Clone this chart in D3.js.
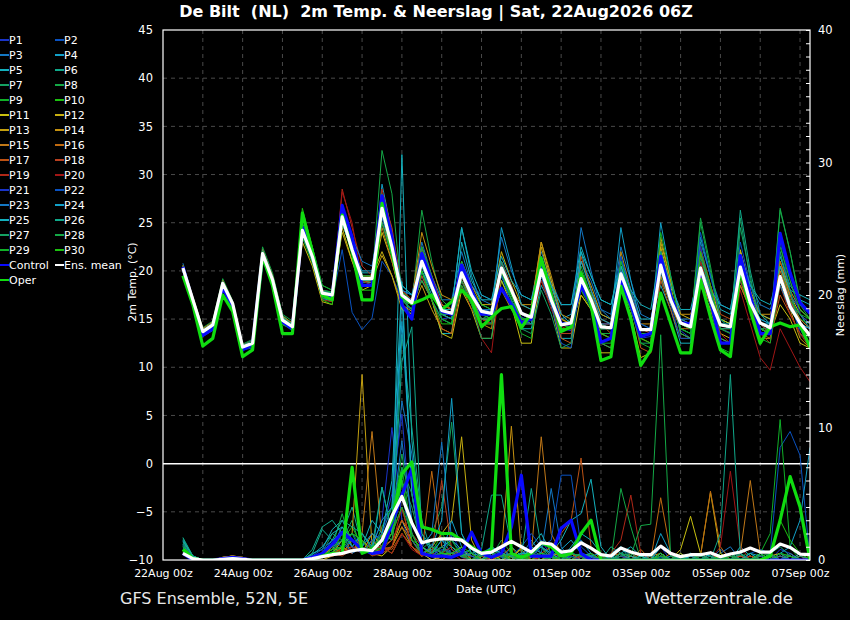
<!DOCTYPE html>
<html><head><meta charset="utf-8">
<script src="https://cdn.jsdelivr.net/npm/d3@7"></script>
<style>
html,body{margin:0;padding:0;background:#000;}
svg{display:block;font-family:"DejaVu Sans",sans-serif;}
</style></head>
<body><svg id="c" width="850" height="620"></svg>
<script>
// ---------------- DATA ----------------
const memberNames = ["P1","P2","P3","P4","P5","P6","P7","P8","P9","P10","P11","P12","P13","P14","P15","P16","P17","P18","P19","P20","P21","P22","P23","P24","P25","P26","P27","P28","P29","P30"];
const memberColors = ["#1a34c8","#0a52c0","#1478c4","#12a0c8","#14b0bc","#10a88a","#14a062","#14a846","#10b028","#1cc010",
                      "#c8c010","#c8b010","#c4a010","#c49010","#c07818","#c06a10","#bc5214","#b84020","#b02818","#a01616",
                      "#1a34c8","#0a52c0","#1478c4","#12a0c8","#14b0bc","#10a88a","#14a062","#14a846","#10b028","#1cc010"];
const xTickLabels = ["2026-08-22","2026-08-24","2026-08-26","2026-08-28","2026-08-30","2026-09-01","2026-09-03","2026-09-05","2026-09-07"];
const tempTicks = [-10,-5,0,5,10,15,20,25,30,35,40,45];
const precipTicks = [0,10,20,30,40];

const tempMean = [20.3,17.0,13.7,14.4, 18.7,16.6,12.1,12.5, 21.8,19.1,14.9,14.2, 24.2,21.5,17.7,17.5, 25.6,22.2,19.2,19.2, 26.5,22.5,17.5,16.7, 21.0,18.4,15.9,15.6, 19.8,17.5,15.8,15.6, 20.3,18.0,15.6,15.2, 20.1,17.0,14.4,14.6, 19.2,17.0,14.2,14.1, 19.7,17.0,13.9,13.9, 20.6,17.0,14.6,14.2, 20.3,17.0,14.4,14.2, 20.4,16.7,14.6,14.1, 19.4,16.3,14.6,13.3];
const tempControl = [20.4,16.8,13.3,14.0, 18.3,16.2,11.8,12.4, 21.5,18.8,14.7,14.0, 24.5,21.8,17.6,17.3, 26.8,23.5,18.5,18.5, 27.8,23.5,16.5,15.0, 21.8,19.0,15.8,15.5, 20.6,18.0,15.5,15.5, 18.2,16.5,14.6,15.0, 20.5,17.5,14.5,14.5, 18.5,16.5,12.6,13.0, 19.0,16.5,13.2,13.5, 21.5,17.5,14.6,14.5, 20.1,17.0,12.5,12.5, 21.6,17.5,13.5,13.5, 23.9,19.8,16.7,15.6];
const tempOper = [19.5,16.5,12.2,13.0, 17.5,15.8,11.1,11.8, 21.5,18.5,13.5,13.5, 26.0,22.0,17.5,17.0, 25.8,22.0,17.0,17.0, 27.0,22.0,17.3,16.6, 17.0,17.5,16.0,16.8, 18.0,17.0,14.2,15.2, 16.1,16.3,14.1,15.6, 21.3,17.5,13.7,14.2, 19.7,16.5,10.7,11.1, 18.4,15.0,10.2,11.8, 17.7,14.6,11.5,11.5, 19.1,15.2,11.8,11.1, 20.3,15.9,12.5,14.2, 14.6,14.2,14.4,12.1];
const tempMembers = [
 [20.5,16.8,13.5,14.2, 19.0,16.4,12.0,12.3, 22.3,19.5,15.2,14.0, 24.8,22.0,18.0,17.2, 26.5,22.8,19.5,19.0, 27.0,23.0,17.0,15.8, 19.5,17.0,15.0,15.2, 18.5,16.8,15.0,14.6, 21.0,18.5,15.8,15.0, 21.5,18.0,14.0,13.8, 18.0,16.5,13.5,13.0, 21.5,17.5,13.0,13.2, 22.0,17.5,13.8,13.0, 19.5,16.5,14.0,13.6, 21.5,17.0,14.0,13.5, 20.5,16.5,14.0,12.5],
 [20.0,16.5,13.2,13.8, 18.2,16.0,11.8,12.0, 21.5,18.8,14.5,13.8, 23.5,21.0,17.0,17.0, 22.2,15.7,13.9,15.1, 21.0,19.5,17.0,16.0, 22.5,19.0,16.0,15.5, 20.5,18.0,16.0,15.8, 19.5,17.5,15.2,14.8, 19.0,16.5,14.5,14.8, 20.0,17.5,14.0,14.0, 18.5,16.0,13.5,13.5, 19.5,16.5,14.5,14.0, 21.0,17.5,14.5,14.0, 19.0,16.0,14.0,14.0, 22.0,17.0,13.5,12.5],
 [20.8,17.2,14.0,14.6, 18.5,16.8,12.3,12.8, 21.5,19.0,15.0,14.5, 24.5,21.8,18.0,17.8, 25.0,22.0,19.0,19.5, 25.5,22.0,17.8,17.0, 23.0,19.5,17.0,17.0, 22.0,18.5,17.0,16.5, 23.5,20.0,17.5,17.0, 22.0,19.0,16.5,16.5, 21.0,19.0,16.0,15.5, 22.5,19.0,15.5,15.0, 19.0,17.0,15.0,15.0, 23.0,19.5,16.5,16.0, 22.0,18.5,16.5,16.0, 19.0,17.5,16.0,15.0],
 [20.0,16.8,13.8,14.5, 18.8,16.5,12.0,12.4, 22.0,19.2,15.0,14.0, 24.0,21.5,17.5,17.0, 25.5,22.5,19.0,18.5, 29.0,24.0,18.0,17.5, 22.5,19.0,16.5,16.0, 24.5,19.5,16.5,16.0, 19.5,17.5,15.0,14.5, 20.0,17.0,15.0,15.5, 22.0,18.0,15.5,15.0, 24.5,19.0,14.5,14.0, 19.5,16.5,14.5,14.5, 18.5,16.0,14.5,14.0, 20.0,17.0,15.0,14.5, 19.0,16.5,15.5,14.0],
 [20.2,17.0,13.6,14.3, 18.6,16.5,12.2,12.6, 21.8,19.0,14.8,14.4, 24.5,21.0,17.8,17.6, 26.0,22.5,19.8,19.8, 28.0,23.5,16.5,15.5, 20.0,17.0,13.5,13.5, 23.0,19.0,17.0,17.0, 19.5,17.0,14.0,14.0, 18.5,16.5,13.0,13.0, 22.0,19.5,17.0,16.5, 21.0,18.0,15.0,15.0, 18.5,16.0,12.5,12.5, 23.5,19.5,16.0,15.5, 21.0,17.5,15.5,15.0, 21.5,18.5,17.0,16.5],
 [20.4,17.1,13.9,14.5, 18.9,16.7,12.2,12.6, 22.0,19.5,15.4,14.5, 23.8,21.2,17.2,16.8, 25.0,22.0,18.8,18.8, 26.0,22.0,17.0,16.5, 20.0,18.0,15.5,15.0, 20.0,17.5,15.5,15.0, 19.0,17.0,15.0,15.0, 21.0,17.5,14.5,14.0, 18.5,16.5,14.0,14.0, 20.0,17.0,13.5,13.5, 21.5,17.5,14.5,14.0, 20.0,17.0,15.0,14.5, 22.0,17.5,14.0,13.5, 19.5,17.0,15.0,14.0],
 [20.1,16.9,13.5,14.1, 18.4,16.3,11.9,12.2, 21.5,18.8,14.6,14.0, 24.0,21.4,17.6,17.4, 25.4,22.0,19.0,19.0, 26.5,22.0,17.0,16.0, 21.0,18.5,15.5,15.5, 19.5,17.0,15.0,15.5, 20.0,18.0,15.5,15.0, 19.5,16.5,14.5,15.0, 18.5,17.0,14.5,14.0, 19.0,16.5,14.0,14.0, 20.5,17.0,14.5,14.5, 21.5,18.0,15.0,14.5, 25.5,19.0,14.5,13.5, 20.5,17.0,15.0,14.0],
 [20.6,17.3,14.1,14.8, 19.2,16.9,12.4,12.9, 22.5,19.8,15.5,14.8, 25.0,22.5,18.5,18.0, 25.8,22.5,19.5,19.0, 32.5,28.0,17.5,16.5, 26.3,21.0,17.0,16.0, 20.5,18.0,16.0,15.5, 20.0,17.5,15.0,14.5, 20.5,17.5,14.5,14.5, 19.0,16.5,13.5,13.5, 19.5,17.0,13.5,13.5, 20.0,17.0,14.5,14.0, 25.0,20.0,15.0,14.5, 19.5,16.5,14.0,14.0, 26.5,22.0,16.5,15.0],
 [20.0,16.7,13.4,14.1, 18.3,16.2,11.8,12.2, 21.2,18.6,14.4,14.0, 24.8,22.0,18.0,17.8, 25.2,21.8,18.8,19.0, 25.0,21.5,17.5,17.0, 21.5,19.0,16.0,16.0, 20.0,17.5,15.5,15.5, 19.5,17.5,15.5,15.0, 20.0,17.0,14.5,14.5, 20.5,17.5,14.0,14.0, 18.5,16.5,13.5,13.5, 21.0,17.0,14.0,13.5, 20.0,17.0,14.5,14.0, 20.0,16.5,14.5,14.5, 19.0,16.5,15.0,14.5],
 [20.3,17.0,13.7,14.4, 18.7,16.6,12.1,12.5, 21.9,19.2,15.0,14.3, 23.5,20.8,17.3,17.3, 25.8,22.5,19.3,19.5, 27.5,23.0,17.8,17.0, 20.5,18.0,15.8,15.5, 19.0,17.0,15.5,15.0, 20.5,18.0,15.5,15.0, 20.5,17.0,14.5,14.5, 19.5,17.5,14.0,14.0, 20.5,17.5,14.0,14.0, 19.5,16.5,14.5,14.5, 19.0,16.5,14.0,14.0, 21.0,17.0,14.5,14.0, 18.5,16.0,14.5,13.5],
 [20.2,16.9,13.6,14.3, 18.6,16.5,12.0,12.4, 21.6,19.0,15.0,14.4, 23.0,20.5,16.8,16.5, 24.5,21.0,18.0,18.5, 24.0,21.0,17.0,16.5, 19.0,17.0,13.5,13.0, 18.0,16.0,13.0,13.0, 19.0,16.5,12.5,12.5, 20.0,16.5,12.0,12.0, 17.5,16.0,11.5,11.5, 18.0,15.5,11.0,11.5, 22.5,18.5,13.5,13.0, 22.0,18.5,15.0,14.5, 22.2,18.0,14.0,13.5, 16.5,15.0,12.5,12.0],
 [20.4,17.1,13.8,14.5, 18.8,16.7,12.2,12.6, 22.0,19.3,15.1,14.4, 24.4,21.6,17.8,17.6, 24.0,21.0,19.0,19.5, 22.0,19.5,16.0,15.5, 21.5,19.0,16.5,16.0, 21.0,18.5,16.5,16.5, 22.0,19.0,16.5,16.0, 23.0,19.0,15.0,14.5, 17.5,16.0,13.5,13.0, 20.0,17.0,14.0,14.0, 23.0,19.0,15.5,15.0, 19.5,17.0,13.5,13.0, 22.0,18.0,15.5,15.0, 20.5,17.5,15.5,14.5],
 [20.1,16.8,13.5,14.2, 18.5,16.4,12.0,12.3, 21.7,19.0,14.8,14.1, 24.6,21.8,17.9,17.6, 25.6,22.0,19.0,19.0, 21.6,19.5,16.5,15.8, 18.5,16.0,14.0,13.5, 20.5,17.5,15.0,15.0, 18.0,16.0,14.5,14.5, 22.5,18.5,15.0,14.5, 21.0,18.5,15.5,15.0, 18.5,16.0,13.0,12.5, 23.5,19.0,15.0,14.5, 19.0,16.5,13.0,12.5, 18.5,16.0,13.0,13.0, 21.0,18.0,16.0,15.0],
 [20.5,17.2,14.0,14.7, 19.0,16.8,12.3,12.7, 22.2,19.5,15.3,14.6, 24.0,21.3,17.5,17.3, 25.2,22.0,19.2,19.0, 25.0,22.0,18.0,17.0, 24.0,20.5,17.5,17.0, 19.0,17.0,14.5,14.0, 21.0,18.0,16.5,16.5, 23.0,19.5,15.5,15.0, 19.0,16.5,12.5,12.0, 22.0,18.0,14.5,14.5, 20.0,17.0,15.5,15.5, 18.5,16.0,12.5,12.5, 20.5,17.0,15.5,15.5, 18.5,16.0,13.0,12.0],
 [20.0,16.7,13.4,14.0, 18.4,16.3,11.9,12.3, 21.5,18.9,14.7,14.1, 24.3,21.6,17.6,17.4, 25.9,22.5,19.4,19.3, 24.5,21.0,17.0,16.5, 21.5,18.5,16.0,16.0, 19.5,17.0,15.5,15.5, 20.0,17.5,15.0,14.5, 20.0,17.0,14.5,14.5, 19.5,17.0,14.5,14.5, 20.0,17.0,14.0,14.0, 19.5,16.5,14.0,14.0, 21.0,17.5,14.5,14.0, 18.5,16.0,14.5,14.0, 20.0,17.0,15.0,14.0],
 [20.6,17.3,14.0,14.6, 18.9,16.8,12.3,12.7, 22.1,19.4,15.2,14.5, 23.9,21.1,17.4,17.2, 25.3,22.0,19.0,18.8, 27.0,22.5,17.5,16.5, 22.0,19.0,16.5,16.0, 19.5,17.5,16.0,15.5, 21.0,18.5,15.5,15.0, 19.0,16.5,14.0,14.0, 20.0,17.5,15.0,14.5, 19.5,17.0,14.0,14.0, 20.5,17.0,14.5,14.0, 22.0,18.0,14.5,14.0, 19.5,16.5,14.0,13.5, 21.0,17.5,14.5,13.0],
 [20.2,16.9,13.6,14.3, 18.6,16.5,12.1,12.5, 21.8,19.1,14.9,14.2, 24.2,21.5,17.7,17.5, 26.0,22.5,19.5,19.5, 26.5,23.0,17.5,16.5, 19.5,17.0,14.0,13.5, 18.5,16.0,14.5,14.5, 20.5,18.0,15.0,14.5, 19.5,16.5,13.0,12.5, 21.5,18.0,14.5,13.5, 19.0,16.5,12.0,11.5, 19.0,16.0,13.0,13.0, 22.5,18.5,15.5,15.0, 19.0,16.0,13.5,13.0, 17.5,15.5,13.5,12.5],
 [20.4,17.1,13.8,14.4, 18.8,16.7,12.1,12.6, 21.9,19.2,15.0,14.3, 24.5,22.0,18.0,17.5, 26.5,23.5,19.5,19.0, 28.0,24.5,18.0,17.0, 22.5,19.5,16.5,16.0, 19.5,17.0,15.0,14.5, 20.5,18.0,15.5,15.0, 20.0,16.5,13.5,13.5, 19.5,17.0,14.5,14.5, 19.5,16.5,14.0,13.5, 21.5,17.5,14.5,14.0, 19.5,16.5,14.5,14.0, 21.0,17.0,14.5,13.5, 19.5,17.0,14.5,14.0],
 [20.3,17.0,13.7,14.4, 18.7,16.6,12.1,12.5, 21.8,19.1,14.9,14.2, 24.0,21.3,17.0,16.8, 28.5,24.5,20.5,19.5, 28.5,24.0,18.0,17.0, 21.0,18.5,15.5,15.0, 19.0,16.5,15.0,14.5, 20.5,18.0,15.5,15.0, 20.5,17.0,14.5,14.5, 19.5,17.0,14.0,14.0, 20.0,17.0,13.5,13.5, 21.0,17.5,14.5,14.0, 20.0,16.5,14.0,14.0, 20.5,16.5,13.5,12.5, 18.5,15.5,13.5,12.0],
 [20.5,17.2,13.9,14.6, 18.9,16.8,12.3,12.7, 22.0,19.3,15.1,14.4, 24.1,21.4,17.6,17.4, 28.2,25.0,19.0,18.5, 27.5,23.5,17.5,16.5, 21.0,18.5,16.0,15.5, 19.5,17.0,13.0,11.5, 20.0,17.5,15.0,14.5, 19.0,16.0,14.0,14.5, 20.0,17.5,14.5,14.0, 19.5,16.5,13.5,13.5, 20.5,17.0,14.5,14.0, 21.0,17.5,13.5,12.5, 18.0,14.5,11.0,9.7, 14.0,12.0,10.0,8.5],
 [20.2,16.8,13.5,14.2, 18.6,16.4,12.0,12.4, 21.6,18.9,14.7,14.1, 24.6,21.8,17.8,17.4, 25.2,22.0,19.0,19.0, 27.0,22.0,17.0,16.5, 21.0,18.5,16.0,15.5, 20.0,17.5,15.5,15.5, 21.0,18.0,15.5,15.0, 19.5,16.5,14.5,14.5, 20.0,17.0,14.0,14.0, 20.5,17.5,14.0,14.0, 20.5,17.0,14.5,14.0, 22.5,18.0,14.0,13.5, 20.0,16.5,14.5,14.0, 23.5,19.0,15.5,14.5],
 [20.4,17.1,13.8,14.5, 18.8,16.7,12.2,12.6, 21.9,19.2,15.0,14.3, 23.8,21.0,17.4,17.2, 25.8,22.5,19.3,19.2, 26.0,22.5,17.5,17.0, 22.0,19.0,15.0,14.5, 21.0,18.5,17.5,17.0, 19.5,17.0,14.5,14.5, 20.0,16.5,12.5,12.0, 19.5,17.0,14.5,14.5, 21.5,18.0,14.5,14.0, 20.0,16.5,13.0,13.0, 24.0,19.5,15.0,14.0, 23.0,18.5,15.5,14.5, 23.0,18.0,14.0,12.0],
 [20.0,16.7,13.4,14.1, 18.4,16.3,11.9,12.3, 21.5,18.8,14.6,14.0, 24.4,21.7,17.8,17.5, 26.5,23.5,21.0,20.5, 26.5,22.0,18.0,17.5, 20.0,18.0,15.5,15.5, 20.5,18.0,16.0,16.0, 20.0,17.5,15.5,15.0, 19.5,16.5,14.5,14.5, 24.5,20.0,16.0,15.0, 20.0,17.0,14.0,14.0, 20.5,17.5,14.5,14.5, 20.5,17.5,14.5,14.0, 21.0,17.0,14.5,14.5, 18.5,16.0,14.5,14.0],
 [20.3,17.1,13.8,14.5, 18.8,16.6,12.1,12.5, 21.8,19.1,15.0,14.3, 24.2,21.6,17.8,17.6, 25.6,22.5,20.0,20.0, 26.0,22.0,18.5,17.5, 20.5,18.0,15.5,15.0, 20.0,17.5,15.5,15.5, 24.5,20.5,16.5,16.0, 21.5,18.5,15.5,14.5, 21.0,18.0,15.0,14.5, 20.5,17.0,14.0,14.0, 25.0,19.5,15.0,14.5, 20.0,17.0,14.5,14.5, 20.5,17.0,15.0,14.5, 19.5,16.5,14.5,14.0],
 [20.1,16.8,13.5,14.2, 18.5,16.4,12.0,12.4, 21.6,18.9,14.7,14.1, 24.0,21.2,17.4,17.2, 25.4,22.0,19.2,19.2, 26.5,23.0,18.5,17.5, 20.0,17.5,16.0,16.0, 24.5,20.0,17.5,17.0, 21.5,19.0,17.5,17.0, 21.0,18.5,16.5,16.5, 22.5,19.5,17.0,16.5, 20.5,18.0,16.5,16.0, 22.0,18.5,16.0,16.0, 20.5,18.0,16.5,16.0, 21.5,18.5,17.0,16.5, 20.5,18.0,17.5,17.0],
 [20.5,17.2,13.9,14.6, 18.9,16.8,12.3,12.7, 22.1,19.4,15.2,14.5, 24.4,21.7,17.9,17.7, 25.0,22.0,19.0,19.0, 26.5,22.5,17.0,16.0, 21.0,18.5,15.5,15.0, 19.5,17.0,15.0,15.0, 20.0,17.5,15.0,14.5, 20.0,17.0,14.0,14.0, 20.0,17.5,14.5,14.0, 19.5,17.0,13.5,13.5, 21.5,17.5,14.0,13.5, 20.5,17.0,14.0,14.0, 26.3,20.0,15.5,14.5, 19.0,16.5,14.5,13.5],
 [20.2,16.9,13.6,14.3, 18.6,16.5,12.0,12.4, 21.7,19.0,14.8,14.1, 23.8,21.0,17.2,17.0, 25.5,22.0,19.0,19.0, 25.0,21.5,17.0,16.5, 19.0,17.0,15.0,14.5, 19.0,16.5,13.0,13.0, 21.0,18.0,14.0,13.5, 18.0,15.5,12.0,12.5, 20.0,17.0,12.5,12.0, 18.5,16.0,12.5,12.5, 22.0,18.0,13.5,13.0, 21.5,18.0,13.0,12.5, 24.5,19.5,14.0,13.5, 22.0,18.0,14.0,13.0],
 [20.4,17.1,13.8,14.5, 18.8,16.7,12.2,12.6, 22.0,19.3,15.1,14.4, 24.2,21.5,17.7,17.5, 25.6,22.5,19.5,19.5, 27.0,23.0,17.5,16.5, 21.0,18.5,15.5,15.5, 20.0,17.5,15.5,15.5, 20.0,17.5,15.0,15.0, 20.0,17.0,14.5,14.5, 19.5,17.0,14.0,14.0, 19.5,16.5,13.5,13.5, 20.5,17.0,14.5,14.0, 25.5,20.5,15.0,14.0, 20.0,16.5,14.0,13.5, 26.3,22.0,17.0,15.5],
 [20.0,16.7,13.4,14.1, 18.3,16.2,11.8,12.2, 21.4,18.7,14.5,14.0, 26.0,22.5,18.5,18.0, 26.0,23.0,19.5,19.0, 27.5,23.5,17.5,16.5, 22.5,19.5,15.0,14.5, 18.5,16.5,14.5,14.5, 20.0,17.0,13.5,13.0, 21.5,18.0,14.5,14.0, 18.0,16.0,12.5,12.5, 21.0,17.5,12.5,12.0, 24.0,19.5,14.0,13.5, 20.0,16.5,12.0,11.5, 21.5,17.5,13.0,12.5, 19.0,17.0,15.5,15.0],
 [20.3,17.0,13.7,14.4, 18.7,16.6,12.1,12.5, 21.8,19.1,14.9,14.2, 26.5,22.5,17.0,16.5, 26.0,22.0,18.0,18.0, 28.0,23.5,17.0,16.0, 20.0,17.0,14.5,14.5, 21.0,18.0,16.5,16.0, 20.0,17.5,15.0,15.0, 21.5,18.0,14.0,14.0, 20.0,17.5,13.5,13.0, 19.0,16.0,13.0,12.5, 21.5,18.0,14.5,14.0, 22.0,18.5,14.0,13.5, 19.5,16.5,14.0,13.5, 22.5,19.0,16.0,15.0]
];

const precipMean = [0.5,0.1,0,0,0.05,0.1,0.05,0, 0,0,0,0,0,0.1,0.25,0.4, 0.5,0.7,0.8,0.7,1.5,3.3,4.8,2.8, 1.3,1.5,1.6,1.6,1.5,0.9,0.5,0.6, 1.0,1.4,1.0,0.6,1.3,1.2,0.6,0.7, 1.3,0.9,0.4,0.3,0.9,0.6,0.4,0.4, 1.05,0.5,0.25,0.4,0.4,0.55,0.25,0.45, 0.6,0.9,0.6,0.6,1.2,0.95,0.45,0.4];
const precipControl = [0.5,0,0,0,0.1,0.2,0.1,0, 0,0,0,0,0,0.2,0.5,1.2, 2.1,1.5,0.8,0.5,0.6,2.8,4.9,6.9, 0.5,0.3,0.3,0.2,0.5,2.1,0.5,0.2, 0.5,2.5,6.4,0.3,0.3,0.3,2.4,3.0, 0.5,0,0,0,0,0,0,0, 0,0,0,0,0,0,0,0, 0,0,0,0,0,0,0,0];
const precipOper = [0.8,0.1,0,0,0,0.1,0,0, 0,0,0,0,0,0,0.3,0.5, 0.5,7.0,0.5,0.8,1.5,3.0,6.5,7.4, 2.5,2.3,2.0,2.0,1.5,1.0,0.5,0.75, 14.0,0.5,0.2,0.5,1.3,1.0,0.3,0.5, 2.0,3.0,0,0,0,0,0,0, 0,0,0,0,0,0,0,0, 0,0,0,0.3,3.0,6.3,4.0,0];
const precipMembers = [
 [1.0,0.2,0,0,0,0.1,0,0, 0,0,0,0,0,0,0.5,1.2, 0.8,1.5,0.5,1.0,3.0,10.0,3.0,1.0, 0.3,1.2,0.5,2.0,0.5,0,0,0.3, 0.8,0.2,0,0.5,1.5,0.3,0,0, 0.2,0,0,0,0.5,0,0,0, 1.0,0,0,0,0.3,0,0,0, 0.4,0,0,0,0.8,0.5,0,0],
 [0.8,0.1,0,0,0,0,0,0, 0,0,0,0,0,0.2,0.3,0.6, 1.0,0.5,2.0,0.8,1.5,2.5,6.0,2.0, 0.5,0,0.3,0.8,0.2,0,0.5,0, 0,1.0,0.3,0,0,0.2,0,0.5, 0.3,0,0,0,0,0.3,0,0, 0.2,0,0,0.5,0,0,0.8,0.3, 0,0.5,0.8,0.5,8.5,9.7,7.9,0],
 [1.2,0.2,0,0,0.1,0.2,0.1,0, 0,0,0,0,0,0,0.3,0.8, 2.0,0.5,1.0,0.5,2.0,4.0,12.0,8.0, 1.0,0.5,1.5,0.5,0.3,0.8,0,0.5, 0.2,0,0.3,1.5,0.5,5.4,1.0,0, 0.5,0.2,0,0,0.3,0,0,0.5, 0,0,0.3,0,0,0,0.5,1.0, 0,0,0.3,0,0,0.5,0,0],
 [0.5,0,0,0,0,0,0,0, 0,0,0,0,0,0.3,0.5,1.0, 2.5,1.0,0.5,1.5,0.8,3.0,20.0,5.0, 0.5,0.8,0.3,3.0,1.0,0,0.3,0.5, 0,0.5,0,0.2,1.0,0,0.3,0.8, 1.5,0.5,0,0.5,1.0,0.3,0,0, 2.0,0.5,0,0.5,0.3,0,0,0.5, 0,0.5,0.3,0,0.5,1.0,3.0,8.5],
 [1.5,0.3,0,0,0,0,0,0, 0,0,0,0,0,0.5,0.8,2.3, 3.0,1.5,1.0,0.5,5.5,2.0,30.6,9.0, 2.0,0.5,1.0,1.5,0.8,0.3,0,0.5, 1.0,0.2,0,1.0,2.0,0.5,1.5,3.0, 3.5,6.1,1.0,0,0.5,1.0,0.3,0, 0.5,0,0,0.3,0,0.5,0,0, 1.0,0.3,0,0,0.5,0,0,0],
 [1.7,0.3,0,0,0,0,0,0, 0,0,0,0,0,0.8,2.5,3.0, 2.0,4.0,1.0,2.0,1.0,2.0,17.0,10.0, 3.0,0.5,1.0,0.5,0.3,0.5,0.8,4.9, 4.9,1.0,0.3,0,0.5,0.2,0,0.5, 0,0.3,0,1.0,0.5,0,0.3,0, 0.3,0,0.5,0,0,0,0.3,0, 0.5,0,0,0.5,1.0,0.3,0,0],
 [1.3,0.2,0,0,0,0,0,0, 0,0,0,0,0,0,0.5,2.0, 1.5,3.0,0.5,1.0,2.0,1.5,6.0,4.0, 1.0,2.0,4.0,10.4,2.0,0.5,0,0.3, 0.5,0,0.3,0.8,1.0,0,0.5,0.3, 0,0,0,0.5,0,0.3,0,0, 0.5,0,0,0,0.3,0,0,0.5, 0.3,0,0.5,0,0.3,0,0,0],
 [1.0,0.1,0,0,0,0,0,0, 0,0,0,0,0,0,0.3,1.0, 3.5,1.0,2.0,0.8,1.0,3.0,8.0,3.0, 0.8,1.5,0.5,0.3,1.0,0,0.5,0.3, 1.5,0.5,0,0,0.3,1.0,0,0.2, 0.5,0,0,0,5.4,2.5,0,0, 0.3,0,0,0,0,0.5,0,0, 0.3,0.5,0,0,0,0,0,0],
 [0.7,0.1,0,0,0,0,0,0, 0,0,0,0,0,0,0.2,0.5, 1.0,2.0,1.5,0.5,2.5,4.0,7.0,2.0, 0.5,0.3,1.0,0.5,0.3,0,0.5,0.8, 0.3,0,0.5,0.3,0,0.5,0,0, 0.3,0.5,0,0,0,0.3,0,0, 0,0.3,0,0,0.5,0,0,0.5, 0,0,0.5,2.0,10.6,1.0,0,0],
 [0.9,0.2,0,0,0,0,0,0, 0,0,0,0,0,0,0.3,0.5, 1.5,2.5,1.0,0.3,1.0,3.5,5.0,1.5, 0.3,0.5,2.0,1.0,0.5,0,0,0.5, 0.3,0.2,0,0.5,0,0.3,0,0, 0.5,0,0,0,0,0,0.3,0, 0,0,0,0.3,0,0,0.5,0, 0,0.3,0,0,0.5,0.3,0,0],
 [0.5,0.1,0,0,0.2,0.3,0.1,0, 0,0,0,0,0,0,0.2,0.3, 0.5,0.8,1.0,0.5,0.3,1.0,3.0,1.5, 0.5,0,0.3,0.5,1.0,0,0.3,0.5, 0,0.3,0.8,0,0.5,0,0,0.5, 0,0,0.3,0,0,0,0,0, 0.5,0,0.8,3.3,0.5,0,0,0.3, 0,0,0,0.3,0.5,0,0.3,0],
 [0.6,0.1,0,0,0.2,0.3,0.2,0, 0,0,0,0,0,0,0,0.3, 1.0,0.5,1.5,0.8,1.0,0.5,2.0,1.0, 0.3,1.0,2.0,3.0,9.3,1.5,0,0.3, 0.5,0,1.0,0.3,0,0.5,0,0, 0.3,0,0,0,0.5,0,0,0, 0,0,0.5,0,0.3,5.1,0.5,0, 0,0.3,0,0,0,0.5,0,0],
 [0.4,0,0,0,0.2,0.3,0.2,0, 0,0,0,0,0,0,0.3,0.5, 1.5,2.0,14.0,1.0,0.5,1.0,2.5,1.0, 0.5,0.3,0,0.5,0.3,0,0.5,0, 0.3,0.5,0,0.3,0,0.5,0.3,0, 0,0.5,0,0,0,0.3,0,0, 0.5,0,0,0,0,0,0,0.5, 0,0,0.3,0,0,0,0.5,0],
 [0.5,0.1,0,0,0.2,0.3,0.2,0, 0,0,0,0,0,0,0.2,1.0, 0.5,1.5,0.5,2.0,1.0,1.5,3.0,2.0, 0.5,0.3,1.0,0.5,0.3,0.5,0,1.0, 0.5,10.1,0.5,0,0.3,0,0.5,0, 0,0,0,0.3,0,0,0,0.3, 0.5,0,0,0,0,0.5,0,0, 0.3,0,0,0,0,0,0,0],
 [0.6,0.1,0,0,0.1,0.2,0.1,0, 0,0,0,0,0,0,0.5,0.8, 1.0,0.5,2.0,9.7,1.5,2.0,4.0,1.0, 0.3,1.0,0.5,0.5,0.3,0,0.5,0.3, 0.5,0,0.3,0.5,9.3,2.0,0.5,0, 0.5,0,0,0,0,0.5,0,0, 0,0.5,0,0,0,0,0.3,0, 0.5,6.0,0.5,0,0,0.3,0,0],
 [0.7,0.2,0,0,0.1,0.2,0.1,0, 0,0,0,0,0,0,0.3,0.5, 0.8,1.0,0.5,1.5,0.8,1.0,2.5,1.5, 0.5,6.7,1.0,0.3,0.5,0,0.3,0.5, 0.3,1.0,0,0.5,0.3,0,0,0.5, 0,0,0,0.3,0.5,0,0.8,0, 4.7,0.5,0,0,0.3,5.2,1.0,0, 0,0.3,0,0,0.3,0,0,0],
 [0.5,0.1,0,0,0,0.1,0,0, 0,0,0,0,0,0,0.2,0.3, 0.5,1.0,0.8,0.5,1.0,0.8,2.0,1.0, 0.3,0.5,0.3,0.5,0.3,0.5,0,0.3, 0.5,0.3,0,0.3,0.5,1.0,2.0,3.0, 7.7,1.0,0,0,0.3,0,0.5,0, 0,0,0.3,0,0,0,0,0.5, 0,0,0,0.3,0,0,0,0.3],
 [0.6,0.1,0,0,0,0.1,0,0, 0,0,0,0,0,0,0.3,0.5, 0.3,0.8,1.5,0.5,0.8,1.5,3.0,2.0, 1.0,0.5,6.0,0.8,0.3,0,0.3,0, 0.5,0.3,0,0.5,0.3,0,0.3,0.5, 0,0.3,0,0,0,0.5,0,0, 0.3,0,0,0,0.5,0,0,0, 0.3,0,0,0.5,0,0.3,0,0],
 [0.4,0,0,0,0,0,0,0, 0,0,0,0,0,0,0.2,0.5, 0.8,0.5,1.0,0.3,0.5,1.0,4.0,1.0, 0.5,0.3,0.5,1.0,0.3,0.5,0,0.3, 0.3,0,0.5,0,0.3,0.5,0,0, 0.3,0.5,0,0.5,1.5,4.9,0.5,0, 0.3,0,0,0,0,0.5,0,0, 0,0.3,0,0,0.3,0,0,0],
 [0.5,0.1,0,0,0,0,0,0, 0,0,0,0,0,0,0.3,0.3, 0.5,1.0,0.5,0.8,1.0,0.5,2.0,0.8, 0.3,0.5,0.3,0.5,0,0.3,0,0.5, 0.3,0.5,0,0.3,0,0,0.5,0, 0,0,0.3,0,0,0,0,0.3, 0,0,0,0.3,0,0,1.0,6.7, 1.0,0,0,0.3,0,0,0.3,0],
 [0.8,0.2,0,0,0,0,0,0, 0,0,0,0,0,0,0.5,1.0, 2.0,1.0,0.5,1.5,2.0,5.0,11.0,2.0, 0.5,0.3,1.0,0.5,0.8,0.3,0,0.5, 0.3,0,0.5,0.3,1.0,0.5,0,0.3, 0,0.5,0,0,0.3,0,0,0, 0.5,0,0,0,0.3,0,0,0.5, 0,0,0.3,0,0.5,0,0,0],
 [0.9,0.2,0,0,0,0,0,0, 0,0,0,0,0,0.3,0.8,1.5, 1.0,2.0,1.0,0.5,1.0,2.0,5.0,1.5, 0.5,0.3,0.8,0.5,0.3,0,0.5,1.0, 0.5,0.3,1.0,2.0,1.0,1.5,6.4,6.4, 1.0,0.3,0,0,0.5,0,0,0, 0.3,0,0,0.5,0,0,0,0.3, 0,0,0.5,0,0,0.5,0,0],
 [1.1,0.2,0,0,0,0.1,0,0, 0,0,0,0,0,0,0.3,0.8, 1.5,0.5,1.0,2.0,1.5,3.0,9.0,3.0, 1.0,2.0,8.9,1.5,0.5,0.3,0,0.5, 0.3,0,0.5,0.8,0.3,0,0.5,0, 0,0.3,0,0.3,0,0,0,0.5, 0,0.3,0,0,0,0.3,0,0, 0.5,0,0,0,0.3,0,0,0],
 [0.6,0.1,0,0,0,0,0,0, 0,0,0,0,0,0.2,0.5,1.5, 2.0,1.0,2.0,1.0,3.0,4.0,18.0,6.0, 1.5,1.0,3.0,12.2,2.0,0.5,0.3,1.0, 0.5,0.3,0,1.0,0.5,0.3,0.8,1.5, 0.5,0.3,0.5,0,0.5,0.3,0,0, 0.5,0,0,0.3,0,0.5,0.3,0, 0,0.5,0,0.3,0,0,0.5,0],
 [1.4,0.3,0,0,0,0,0,0, 0,0,0,0,0,0.4,1.0,2.0, 2.5,1.5,1.0,3.0,2.0,6.0,21.0,5.0, 1.0,0.5,1.5,1.0,0.3,0.5,0,0.8, 0.5,0.3,0.5,0.5,1.0,0.5,0,1.0, 2.0,1.5,0.5,0,1.0,0,0.3,0, 1.0,0.5,0,0.3,0.5,0.3,0,0.5, 0,0,0.5,0,0,0.3,0,0],
 [1.6,0.3,0,0,0,0,0,0, 0,0,0,0,0,0.5,2.3,1.5, 3.0,2.5,2.0,1.0,5.5,2.0,15.0,17.6, 2.0,1.0,0.5,0.3,0.5,0.8,0.3,0.5, 0.3,0.5,0.3,5.4,1.0,0.3,0,0.5, 0.3,0.5,0,0,0.5,0,0,0.3, 0,0,0.3,0,0.5,0,2.0,14.0, 0.5,0,0,0.5,0,0,0.3,0],
 [1.2,0.2,0,0,0,0,0,0, 0,0,0,0,0,0,0.5,1.0, 1.5,2.0,0.5,1.0,1.5,2.5,7.0,5.0, 0.5,1.0,0.5,0.5,0.3,0.5,0,0.3, 0.5,0.3,0,0.5,0.3,0,0.3,0, 0.5,0,0,0,0.3,0.5,0,0, 0.3,0,0,0,0,0.3,0,0, 0.5,0,0,0,0.5,0,0,0],
 [0.8,0.1,0,0,0,0,0,0, 0,0,0,0,0,0,0.3,0.8, 1.0,1.5,1.0,0.5,2.0,1.5,6.0,2.0, 0.5,0.5,1.0,0.3,0.5,0,0.3,0.5, 0.3,0,0.3,0.5,0,0.3,0,0.5, 0.3,0,0,0,0.5,0.3,2.6,2.7, 17.0,0.3,0,0,0.3,0,0,0.5, 0,0,0.3,0.5,0,0.3,0,0],
 [0.7,0.1,0,0,0,0,0,0, 0,0,0,0,0,0,0.2,0.5, 2.0,1.5,0.5,1.0,0.8,2.0,4.0,2.0, 0.5,0.3,0.5,1.5,0.3,0,0.5,0.3, 0,0.5,0,0.3,0.5,0,0.3,0, 0,0,0.3,0,0,0,0,0, 0.3,0,0,0.5,0,0,0,0.3, 0,0,0,0,0.5,0.3,0,0],
 [1.0,0.2,0,0,0,0,0,0, 0,0,0,0,0,0,0.3,0.8, 1.0,2.0,1.5,0.5,1.0,2.0,6.0,1.5, 1.0,0.3,0.5,0.5,1.0,0.5,0,0.3, 0.5,0,0.3,0,0.5,0.3,0,0, 0,0.5,0,0,0,0,0,0, 0.5,0,0,0,0,0,0.3,0, 0,0,0.5,0,3.0,1.5,0.5,0]
];

// ---------------- CHART ----------------
const svg = d3.select("#c");
const L = 163, R = 810, T = 30, B = 560;
const x = d3.scaleUtc().domain([new Date(Date.UTC(2026,7,22,0)), new Date(Date.UTC(2026,8,7,6))]).range([L, R]);
const yT = d3.scaleLinear().domain([-10, 45]).range([B, T]);
const yP = d3.scaleLinear().domain([0, 40]).range([B, T]);
const t0 = Date.UTC(2026,7,22,12);
const times = tempMean.map((_, i) => new Date(t0 + i * 6 * 3600e3));

svg.append("rect").attr("width",850).attr("height",620).attr("fill","#000");

// grid
const grid = svg.append("g");
d3.utcDay.range(new Date(Date.UTC(2026,7,23)), new Date(Date.UTC(2026,8,7,1))).forEach(d => {
  grid.append("line").attr("x1", x(d)).attr("x2", x(d)).attr("y1", T).attr("y2", B)
    .attr("stroke", "#4a4a4a").attr("stroke-width", 1).attr("stroke-dasharray", "4,4");
});
tempTicks.filter(v => v !== -10 && v !== 45 && v !== 0).forEach(v => {
  grid.append("line").attr("x1", L).attr("x2", R).attr("y1", yT(v)).attr("y2", yT(v))
    .attr("stroke", "#4a4a4a").attr("stroke-width", 1).attr("stroke-dasharray", "4,4");
});
// zero line
svg.append("line").attr("x1", L).attr("x2", R).attr("y1", yT(0)).attr("y2", yT(0))
  .attr("stroke", "#fff").attr("stroke-width", 1.5);

// clip
svg.append("defs").append("clipPath").attr("id","clip").append("rect")
  .attr("x", L).attr("y", T).attr("width", R - L).attr("height", B - T);
const plot = svg.append("g").attr("clip-path","url(#clip)");

const lineT = d3.line().x((d, i) => x(times[i])).y(d => yT(d));
const lineP = d3.line().x((d, i) => x(times[i])).y(d => yP(d));

tempMembers.forEach((s, k) => {
  plot.append("path").attr("d", lineP(precipMembers[k])).attr("fill","none").attr("stroke", memberColors[k]).attr("stroke-width", 1);
  plot.append("path").attr("d", lineT(s)).attr("fill","none").attr("stroke", memberColors[k]).attr("stroke-width", 1);
});
const thick = [
  {t: tempControl, p: precipControl, c: "#0a0aff"},
  {t: tempOper, p: precipOper, c: "#10dd10"},
  {t: tempMean, p: precipMean, c: "#ffffff"}
];
thick.forEach(s => {
  plot.append("path").attr("d", lineP(s.p)).attr("fill","none").attr("stroke", s.c).attr("stroke-width", 3.2).attr("stroke-linejoin","round");
  plot.append("path").attr("d", lineT(s.t)).attr("fill","none").attr("stroke", s.c).attr("stroke-width", 3.2).attr("stroke-linejoin","round");
});

// frame
svg.append("rect").attr("x", L).attr("y", T).attr("width", R - L).attr("height", B - T)
  .attr("fill","none").attr("stroke","#fff").attr("stroke-width",1.2);

// left axis labels
const axL = svg.append("g").attr("transform", `translate(${L},0)`)
  .call(d3.axisLeft(yT).tickValues(tempTicks).tickSize(0).tickPadding(10));
axL.select(".domain").remove();
axL.selectAll("text").attr("fill","#fff").attr("font-size", 11.5).attr("font-family","DejaVu Sans");

// right axis minor ticks (inward) + labels
const axRm = svg.append("g").attr("transform", `translate(${R},0)`)
  .call(d3.axisLeft(yP).tickValues(d3.range(0, 41, 1)).tickSize(4).tickFormat(""));
axRm.select(".domain").remove();
axRm.selectAll("line").attr("stroke","#fff");
const axR = svg.append("g").attr("transform", `translate(${R},0)`)
  .call(d3.axisRight(yP).tickValues(precipTicks).tickSize(0).tickPadding(8));
axR.select(".domain").remove();
axR.selectAll("text").attr("fill","#fff").attr("font-size", 11.5).attr("font-family","DejaVu Sans");

// bottom axis labels
const fmt = d3.utcFormat("%d%b %Hz");
const axB = svg.append("g").attr("transform", `translate(0,${B})`)
  .call(d3.axisBottom(x).tickValues(xTickLabels.map(s => new Date(s + "T00:00:00Z"))).tickSize(0).tickPadding(9).tickFormat(fmt));
axB.select(".domain").remove();
axB.selectAll("text").attr("fill","#fff").attr("font-size", 11).attr("font-family","DejaVu Sans");

// axis titles
svg.append("text").attr("x", 486).attr("y", 593).attr("text-anchor","middle").attr("fill","#fff").attr("font-size",11).text("Date (UTC)");
svg.append("text").attr("transform","translate(136,282) rotate(-90)").attr("text-anchor","middle").attr("fill","#fff").attr("font-size",11).text("2m Temp. (°C)");
svg.append("text").attr("transform","translate(844,295) rotate(-90)").attr("text-anchor","middle").attr("fill","#fff").attr("font-size",11).text("Neerslag (mm)");

// title & footer
svg.append("text").attr("x", 436).attr("y", 17).attr("text-anchor","middle").attr("fill","#fff")
  .attr("font-size",16).attr("font-weight","bold").style("white-space","pre")
  .text("De Bilt  (NL)  2m Temp. & Neerslag | Sat, 22Aug2026 06Z");
svg.append("text").attr("x", 120).attr("y", 604).attr("fill","#e8e8e8").attr("font-size",16).text("GFS Ensemble, 52N, 5E");
svg.append("text").attr("x", 793).attr("y", 604).attr("text-anchor","end").attr("fill","#e8e8e8").attr("font-size",16.5).text("Wetterzentrale.de");

// legend
const legendItems = memberNames.map((n, k) => ({name: n, color: memberColors[k]}))
  .concat([{name:"Control", color:"#0a0aff"}, {name:"Ens. mean", color:"#ffffff"}, {name:"Oper", color:"#10dd10"}]);
const leg = svg.append("g");
legendItems.forEach((it, k) => {
  const col = k % 2, row = Math.floor(k / 2);
  const lx = col === 0 ? 0 : 55, ly = 40 + row * 15;
  leg.append("line").attr("x1", lx).attr("x2", lx + 9).attr("y1", ly).attr("y2", ly).attr("stroke", it.color).attr("stroke-width", 2);
  leg.append("text").attr("x", lx + 9).attr("y", ly + 4).attr("fill","#fff").attr("font-size", 11).text(it.name);
});
</script>
</body></html>
